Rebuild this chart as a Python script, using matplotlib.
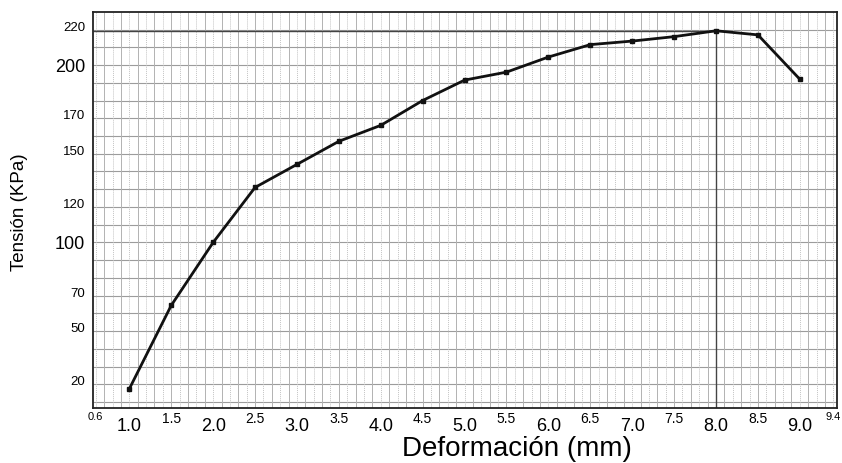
#! /usr/bin/env python

import matplotlib

matplotlib.use("Agg")
import matplotlib.pyplot
import matplotlib.transforms
import numpy

# readings taken off the curve (Deformación mm -> Tensión KPa)
DEFORMATION = [1.0, 1.5, 2.0, 2.5, 3.0, 3.5, 4.0, 4.5, 5.0,
               5.5, 6.0, 6.5, 7.0, 7.5, 8.0, 8.5, 9.0]
TENSION = [17.5, 64.5, 100.0, 131.0, 144.0, 157.0, 166.0, 180.0, 191.5,
           196.0, 204.5, 211.5, 213.5, 216.0, 219.3, 217.0, 192.0]

X_MAJOR_TICKS = [1.0, 2.0, 3.0, 4.0, 5.0, 6.0, 7.0, 8.0, 9.0]
X_MINOR_TICKS = [0.6, 1.5, 2.5, 3.5, 4.5, 5.5, 6.5, 7.5, 8.5, 9.4]
Y_MAJOR_TICKS = [100, 200]
Y_MINOR_TICKS = [20, 50, 70, 120, 150, 170, 220]

XLIM = (0.57, 9.44)
YLIM = (6.5, 230)


def draw_paper(ax):
    # graph paper: solid lines every 10 KPa, vertical lines every 0.1 mm
    ax.hlines(numpy.arange(10, 230, 10), *XLIM, color="#9c9c9c", lw=0.8, zorder=1)
    ax.vlines(numpy.arange(0.7, 9.4, 0.2), *YLIM, color="#b2b2b2", lw=0.7, zorder=1)
    ax.vlines(numpy.arange(0.6, 9.41, 0.2), *YLIM, color="#c4c4c4", lw=0.7,
              linestyle=(0, (1, 1)), zorder=1)


def main():
    matplotlib.pyplot.rcParams["font.family"] = ["Liberation Sans", "DejaVu Sans"]
    fig = matplotlib.pyplot.figure(figsize=(8.42, 4.63), dpi=100)
    ax = fig.add_axes([0.1108, 0.1181, 0.8829, 0.8564])
    ax.set_xlim(XLIM)
    ax.set_ylim(YLIM)
    draw_paper(ax)

    x = numpy.array(DEFORMATION)
    y = numpy.array(TENSION)
    ax.plot(x, y, color="#111111", lw=2.0, marker="s", markersize=3, zorder=4)

    # peak marker lines
    peak = numpy.argmax(y)
    ax.hlines(y[peak], XLIM[0], x[peak], color="#444444", lw=1.0, zorder=3)
    ax.vlines(x[peak], YLIM[0], y[peak], color="#444444", lw=1.0, zorder=3)

    ax.tick_params(axis="both", which="both", length=0)
    ax.tick_params(axis="x", which="major", labelsize=13, pad=7)
    ax.tick_params(axis="x", which="minor", labelsize=10, pad=2.5)
    ax.tick_params(axis="y", which="major", labelsize=13, pad=6)
    ax.tick_params(axis="y", which="minor", labelsize=9.5, pad=6)

    ax.set_xticks(X_MAJOR_TICKS, [f"{v:.1f}" for v in X_MAJOR_TICKS])
    ax.set_xticks(X_MINOR_TICKS, [f"{v:.1f}" for v in X_MINOR_TICKS], minor=True)
    ax.set_yticks(Y_MAJOR_TICKS, [str(v) for v in Y_MAJOR_TICKS])
    ax.set_yticks(Y_MINOR_TICKS, [str(v) for v in Y_MINOR_TICKS], minor=True)

    xminor = ax.get_xticklabels(minor=True)
    for label in (xminor[0], xminor[-1]):
        label.set_fontsize(8)
    shift = matplotlib.transforms.ScaledTranslation(0, 2.5 / 72, fig.dpi_scale_trans)
    for label in ax.get_yticklabels(minor=True):
        label.set_transform(label.get_transform() + shift)

    for spine in ax.spines.values():
        spine.set_linewidth(1.3)
        spine.set_color("#222222")
        spine.set_zorder(5)

    ax.set_xlabel("Deformación (mm)", fontsize=20)
    ax.xaxis.label.set_va("center")
    ax.xaxis.set_label_coords(0.57, -0.103)
    ax.set_ylabel("Tensión (KPa)", fontsize=13.5)
    ax.yaxis.label.set_va("center")
    ax.yaxis.set_label_coords(-0.0986, 0.495)

    fig.savefig("out.png", dpi=100)
    matplotlib.pyplot.close(fig)


if __name__ == "__main__":
    main()
